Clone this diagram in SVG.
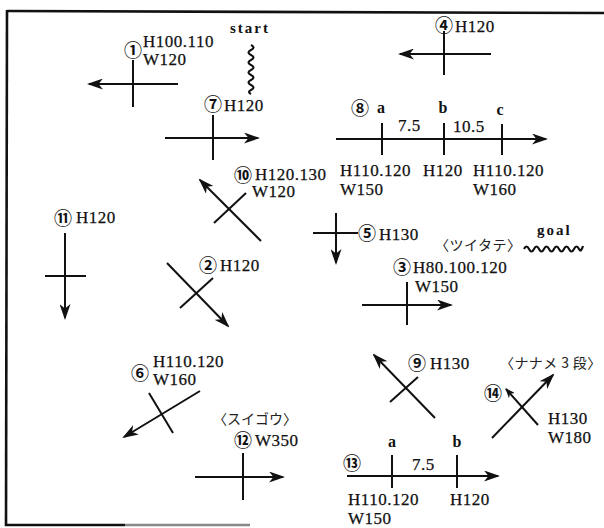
<svg xmlns="http://www.w3.org/2000/svg" width="604" height="528" viewBox="0 0 604 528">
<style>
.bg{fill:#ffffff}
.frame{stroke:#111;stroke-width:2.6;fill:none}
.ln{stroke:#111;stroke-width:2;fill:none}
.ar{stroke:#111;stroke-width:2;fill:none;marker-end:url(#ah)}
.sq{stroke:#111;stroke-width:2.2;fill:none}
.lb{font-family:"Liberation Serif","DejaVu Serif",serif;font-size:17px;fill:#111;letter-spacing:0.5px;stroke:#111;stroke-width:0.25px}
.ab{font-family:"Liberation Serif","DejaVu Serif",serif;font-size:16px;font-weight:bold;fill:#111}
.cn{font-family:"Noto Sans CJK JP","DejaVu Sans",sans-serif;font-size:18px;font-weight:bold;fill:#111;text-anchor:middle}
.jp{font-family:"Noto Sans CJK JP",sans-serif;font-size:14px;fill:#222}
.kw{font-family:"Liberation Serif","DejaVu Serif",serif;font-size:15px;font-weight:bold;fill:#111;letter-spacing:2px}
</style>
<defs>
<marker id="ah" viewBox="0 0 16 11" refX="14" refY="5.5" markerWidth="16" markerHeight="11" markerUnits="userSpaceOnUse" orient="auto">
<path d="M0,0 L16,5.5 L0,11 L4.5,5.5 Z" fill="#111"/>
</marker>
<marker id="ahs" viewBox="0 0 10 8" refX="9" refY="4" markerWidth="10" markerHeight="8" markerUnits="userSpaceOnUse" orient="auto">
<path d="M0,0 L10,4 L0,8 L3,4 Z" fill="#111"/>
</marker>
</defs>
<rect class="bg" width="604" height="528"/>
<g id="frame">
<path class="frame" d="M7,11 L604,13"/>
<path class="frame" d="M7,10 L6,526"/>
<path class="frame" d="M5,525 L125,525"/>
<path d="M125,525 L250,525" stroke="#888" stroke-width="2.6"/>
</g>
<g id="start">
<text class="kw" x="230" y="33">start</text>
<path class="sq" d="M251,45 q5,2.5 0,5 q-5,2.5 0,5 q5,2.5 0,5 q-5,2.5 0,5 q5,2.5 0,5 q-5,2.5 0,5 q5,2.5 0,5 q-5,2.5 0,5 q5,2.5 0,5 q-4,2 0,4"/>
</g>
<g id="n1">
<text class="cn" x="133" y="56.8">①</text>
<text class="lb" x="143" y="47">H100.110</text>
<text class="lb" x="143" y="65">W120</text>
<line class="ln" x1="133" y1="60" x2="133" y2="107"/>
<line class="ar" x1="178" y1="84" x2="89" y2="84"/>
</g>
<g id="n7">
<text class="cn" x="213" y="110.8">⑦</text>
<text class="lb" x="224" y="111">H120</text>
<line class="ln" x1="213" y1="115" x2="213" y2="160"/>
<line class="ar" x1="165" y1="138" x2="258" y2="138"/>
</g>
<g id="n4">
<text class="cn" x="444" y="31.8">④</text>
<text class="lb" x="455" y="32">H120</text>
<line class="ln" x1="444" y1="31" x2="444" y2="75"/>
<line class="ar" x1="491" y1="54" x2="400" y2="54"/>
</g>
<g id="n8">
<text class="cn" x="360" y="114.8">⑧</text>
<text class="ab" x="381" y="113" text-anchor="middle">a</text>
<text class="ab" x="443" y="113" text-anchor="middle">b</text>
<text class="ab" x="500" y="115" text-anchor="middle">c</text>
<line class="ar" x1="336" y1="139" x2="546" y2="139"/>
<line class="ln" x1="382" y1="123" x2="382" y2="155"/>
<line class="ln" x1="444" y1="123" x2="444" y2="155"/>
<line class="ln" x1="502" y1="124" x2="502" y2="155"/>
<text class="lb" x="398" y="131">7.5</text>
<text class="lb" x="453" y="132">10.5</text>
<text class="lb" x="340" y="176">H110.120</text>
<text class="lb" x="423" y="176">H120</text>
<text class="lb" x="473" y="176">H110.120</text>
<text class="lb" x="340" y="195">W150</text>
<text class="lb" x="473" y="195">W160</text>
</g>
<g id="n10">
<text class="cn" x="243" y="181.8">⑩</text>
<text class="lb" x="255" y="180">H120.130</text>
<text class="lb" x="252" y="197">W120</text>
<line class="ar" x1="261" y1="241" x2="200" y2="180"/>
<line class="ln" x1="214" y1="223" x2="246" y2="193"/>
</g>
<g id="n11">
<text class="cn" x="63" y="224.8">⑪</text>
<text class="lb" x="76" y="223">H120</text>
<line class="ar" x1="65" y1="233" x2="65" y2="318"/>
<line class="ln" x1="45" y1="276" x2="86" y2="276"/>
</g>
<g id="n2">
<text class="cn" x="208" y="271.8">②</text>
<text class="lb" x="220" y="271">H120</text>
<line class="ar" x1="167" y1="263" x2="228" y2="326"/>
<line class="ln" x1="180" y1="308" x2="213" y2="278"/>
</g>
<g id="n5">
<line class="ar" x1="336" y1="213" x2="336" y2="263"/>
<line class="ln" x1="313" y1="233" x2="358" y2="233"/>
<text class="cn" x="367" y="239.8">⑤</text>
<text class="lb" x="379" y="240">H130</text>
</g>
<g id="tsuitate">
<text class="jp" x="435" y="250" letter-spacing="0.5">〈ツイタテ〉</text>
</g>
<g id="goal">
<text class="kw" x="537" y="235">goal</text>
<path class="sq" d="M524,249 q2.5,-5 5,0 q2.5,5 5,0 q2.5,-5 5,0 q2.5,5 5,0 q2.5,-5 5,0 q2.5,5 5,0 q2.5,-5 5,0 q2.5,5 5,0 q2.5,-5 5,0 q2.5,5 5,0 q2.5,-5 5,0 q2,4 4,-3"/>
</g>
<g id="n3">
<text class="cn" x="402" y="273.8">③</text>
<text class="lb" x="413" y="273">H80.100.120</text>
<text class="lb" x="415" y="292">W150</text>
<line class="ln" x1="407" y1="282" x2="407" y2="325"/>
<line class="ar" x1="362" y1="305" x2="451" y2="305"/>
</g>
<g id="n6">
<text class="cn" x="140" y="379.8">⑥</text>
<text class="lb" x="153" y="367">H110.120</text>
<text class="lb" x="153" y="385">W160</text>
<line class="ar" x1="200" y1="391" x2="124" y2="437"/>
<line class="ln" x1="149" y1="393" x2="173" y2="433"/>
</g>
<g id="suigou">
<text class="jp" x="213" y="424">〈スイゴウ〉</text>
</g>
<g id="n12">
<text class="cn" x="243" y="446.8">⑫</text>
<text class="lb" x="255" y="446">W350</text>
<line class="ln" x1="243" y1="453" x2="243" y2="500"/>
<line class="ar" x1="195" y1="477" x2="283" y2="477"/>
</g>
<g id="n9">
<text class="cn" x="417" y="369.8">⑨</text>
<text class="lb" x="430" y="369">H130</text>
<line class="ar" x1="435" y1="418" x2="374" y2="355"/>
<line class="ln" x1="390" y1="402" x2="418" y2="377"/>
</g>
<g id="naname">
<text class="jp" x="500" y="368" font-size="13.5" letter-spacing="0.4">〈ナナメ 3 段〉</text>
</g>
<g id="n14">
<text class="cn" x="493" y="399.8">⑭</text>
<line class="ar" x1="492" y1="438" x2="553" y2="375"/>
<line class="ln" x1="538" y1="425" x2="506" y2="389" marker-end="url(#ahs)"/>
<text class="lb" x="548" y="424">H130</text>
<text class="lb" x="548" y="443">W180</text>
</g>
<g id="n13">
<text class="cn" x="352" y="469.8">⑬</text>
<text class="ab" x="392" y="447" text-anchor="middle">a</text>
<text class="ab" x="457" y="447" text-anchor="middle">b</text>
<line class="ar" x1="347" y1="476" x2="498" y2="476"/>
<line class="ln" x1="392" y1="455" x2="392" y2="488"/>
<line class="ln" x1="457" y1="455" x2="457" y2="488"/>
<text class="lb" x="412" y="470">7.5</text>
<text class="lb" x="348" y="505">H110.120</text>
<text class="lb" x="450" y="505">H120</text>
<text class="lb" x="348" y="524">W150</text>
</g>
<g id="connectors"></g>
</svg>
